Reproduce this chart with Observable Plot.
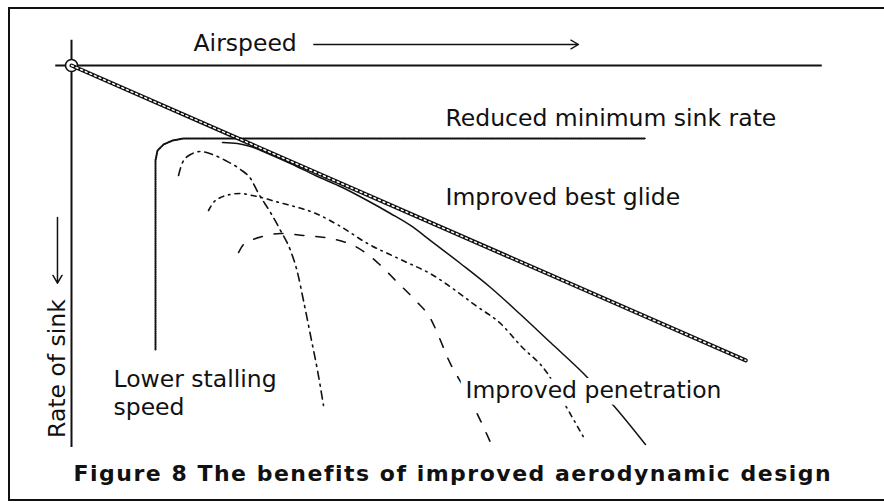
<!DOCTYPE html>
<html><head><meta charset="utf-8">
<script src="https://cdn.jsdelivr.net/npm/d3@7"></script>
<script src="https://cdn.jsdelivr.net/npm/@observablehq/plot@0.6"></script>
<style>
html,body{margin:0;padding:0;background:#fff;overflow:hidden;}
#wrap{position:relative;width:884px;height:503px;overflow:hidden;background:#fff;}
.edge{position:absolute;background:#111;}
#chart{position:absolute;left:0;top:0;}
</style></head><body>
<div id="wrap">
  <div class="edge" style="left:8px;top:7px;width:900px;height:2px;"></div>
  <div class="edge" style="left:8px;top:7px;width:2px;height:494px;"></div>
  <div class="edge" style="left:8px;top:499px;width:900px;height:2px;"></div>
  <div id="chart"></div>
</div>
<script>
// ---- Data (airspeed units, sink units; sink grows downward) ----
const tangentSpeed = [0, 89.9];
const tangentSink  = [0, 38.6];

const envelopeSpeed = [11.2, 11.2, 11.47, 12.27, 13.47, 14.93, 76.53];
const envelopeSink  = [37.17, 12.43, 11.13, 10.34, 9.82, 9.55, 9.55];

const polarASpeed = [14.27, 14.8, 15.87, 17.2, 18.8, 20.53, 22.53, 23.87, 24.93, 26.53, 27.87, 29.2, 30.13, 30.93, 31.87, 32.8, 33.6];
const polarASink  = [14.4, 12.7, 11.65, 11.26, 11.65, 12.43, 13.61, 14.79, 16.75, 19.24, 21.6, 24.21, 27.09, 30.76, 35.34, 39.92, 44.5];

const polarBSpeed = [18.27, 18.93, 19.87, 21.2, 22.53, 24.13, 25.87, 27.2, 29.2, 32.27, 35.87, 39.47, 43.87, 48.27, 51.2, 53.87, 57.2, 59.87, 63.47, 65.87, 68.53];
const polarBSink  = [18.98, 17.93, 17.28, 16.88, 16.75, 17.02, 17.41, 17.8, 18.32, 19.24, 21.07, 23.3, 25.39, 27.49, 29.45, 31.41, 33.77, 36.65, 40.31, 44.5, 49.08];

const polarCSpeed = [22.27, 22.93, 23.87, 25.47, 27.87, 30.93, 34.53, 37.87, 40.8, 43.47, 45.87, 47.87, 49.2, 50.13, 52.53, 54.53, 55.87];
const polarCSink  = [24.48, 23.43, 22.91, 22.38, 21.99, 22.25, 22.64, 23.69, 25.79, 28.4, 30.76, 33.12, 35.99, 38.22, 42.54, 46.47, 49.35];

const polarDSpeed = [20.13, 22.13, 23.87, 25.87, 29.2, 32.53, 36.13, 39.2, 42.53, 45.2, 47.87, 51.87, 55.87, 59.87, 63.87, 68.27, 72.27, 76.53];
const polarDSink  = [10.08, 10.21, 10.6, 11.39, 12.83, 14.4, 15.97, 17.54, 19.37, 20.94, 22.91, 25.92, 29.06, 32.59, 36.26, 40.31, 44.5, 49.61];

const axisTitleX = "Airspeed";
const axisTitleY = "Rate of sink";
const labelMinSink = "Reduced minimum sink rate";
const labelBestGlide = "Improved best glide";
const labelStall1 = "Lower stalling";
const labelStall2 = "speed";
const labelPenetration = "Improved penetration";
const caption = "Figure 8 The benefits of improved aerodynamic design";

// ---- Build ----
const rows = (xs, ys) => xs.map((x, i) => ({speed: x, sink: ys[i]}));
const FONT = "DejaVu Sans";
const ink = "#111";
const lineOpts = {x: "speed", y: "sink", stroke: ink, fill: "none"};

const plot = Plot.plot({
  width: 884, height: 503,
  marginTop: 0, marginRight: 0, marginBottom: 0, marginLeft: 0,
  x: {domain: [0, 100], range: [71, 821], axis: null},
  y: {domain: [0, 50], range: [65, 447], axis: null},
  style: {background: "transparent", fontFamily: FONT},
  marks: [
    Plot.ruleY([0], {x1: -2.1, x2: 100.1, stroke: ink, strokeWidth: 2}),
    Plot.ruleX([0], {y1: -3.3, y2: 50, stroke: ink, strokeWidth: 2}),
    Plot.dot([null], {x: 0, y: 0, r: 6, fill: "white", stroke: ink, strokeWidth: 1.6}),
    Plot.line(rows(envelopeSpeed, envelopeSink), {...lineOpts, strokeWidth: 0.8, curve: "linear"}),
    Plot.line(rows(envelopeSpeed, envelopeSink), {...lineOpts, strokeWidth: 2, strokeDasharray: "1,1.2", curve: "linear"}),
    Plot.line(rows(polarASpeed, polarASink), {...lineOpts, strokeWidth: 1.6, strokeDasharray: "8,5,2,5", curve: "monotone-x"}),
    Plot.line(rows(polarBSpeed, polarBSink), {...lineOpts, strokeWidth: 1.6, strokeDasharray: "5,5,1.5,5", curve: "monotone-x"}),
    Plot.line(rows(polarCSpeed, polarCSink), {...lineOpts, strokeWidth: 1.6, strokeDasharray: "9,12", curve: "monotone-x"}),
    Plot.line(rows(polarDSpeed, polarDSink), {...lineOpts, strokeWidth: 1.5, curve: "monotone-x"}),
    Plot.line(rows(tangentSpeed, tangentSink), {...lineOpts, strokeWidth: 4}),
    Plot.line(rows(tangentSpeed, tangentSink), {x: "speed", y: "sink", stroke: "white", strokeWidth: 1.5, strokeDasharray: "2,3"}),
    Plot.arrow([null], {x1: 32.3, y1: -2.75, x2: 67.6, y2: -2.75, stroke: ink, strokeWidth: 1.3, headLength: 10}),
    Plot.text([axisTitleX], {x: 16.27, y: -2.9, text: d => d, textAnchor: "start", fontSize: 23.5, fill: ink}),
    Plot.arrow([null], {x1: -1.87, y1: 19.9, x2: -1.87, y2: 28.5, stroke: ink, strokeWidth: 1.5, headLength: 9}),
    Plot.text([axisTitleY], {x: -1.87, y: 39.66, text: d => d, rotate: -90, fontSize: 23.5, fill: ink}),
    Plot.text([labelMinSink], {x: 49.87, y: 6.94, text: d => d, textAnchor: "start", fontSize: 23.5, fill: ink}),
    Plot.text([labelBestGlide], {x: 49.87, y: 17.28, text: d => d, textAnchor: "start", fontSize: 23.5, fill: ink}),
    Plot.text([labelStall1], {x: 5.6, y: 41.1, text: d => d, textAnchor: "start", fontSize: 23.5, fill: ink}),
    Plot.text([labelStall2], {x: 5.6, y: 44.76, text: d => d, textAnchor: "start", fontSize: 23.5, fill: ink}),
    Plot.text([labelPenetration], {x: 52.53, y: 42.54, text: d => d, textAnchor: "start", fontSize: 23.5, fill: ink, stroke: "white", strokeWidth: 14, strokeLinejoin: "round"}),
    Plot.text([caption], {x: 0.27, y: 53.5, text: d => d, textAnchor: "start", fontSize: 22, fontWeight: "bold", fill: ink})
  ]
});
d3.select(plot).selectAll("text").filter(function() { return this.textContent === caption; }).style("letter-spacing", "1.5px");
document.getElementById("chart").append(plot);
</script>
</body></html>
